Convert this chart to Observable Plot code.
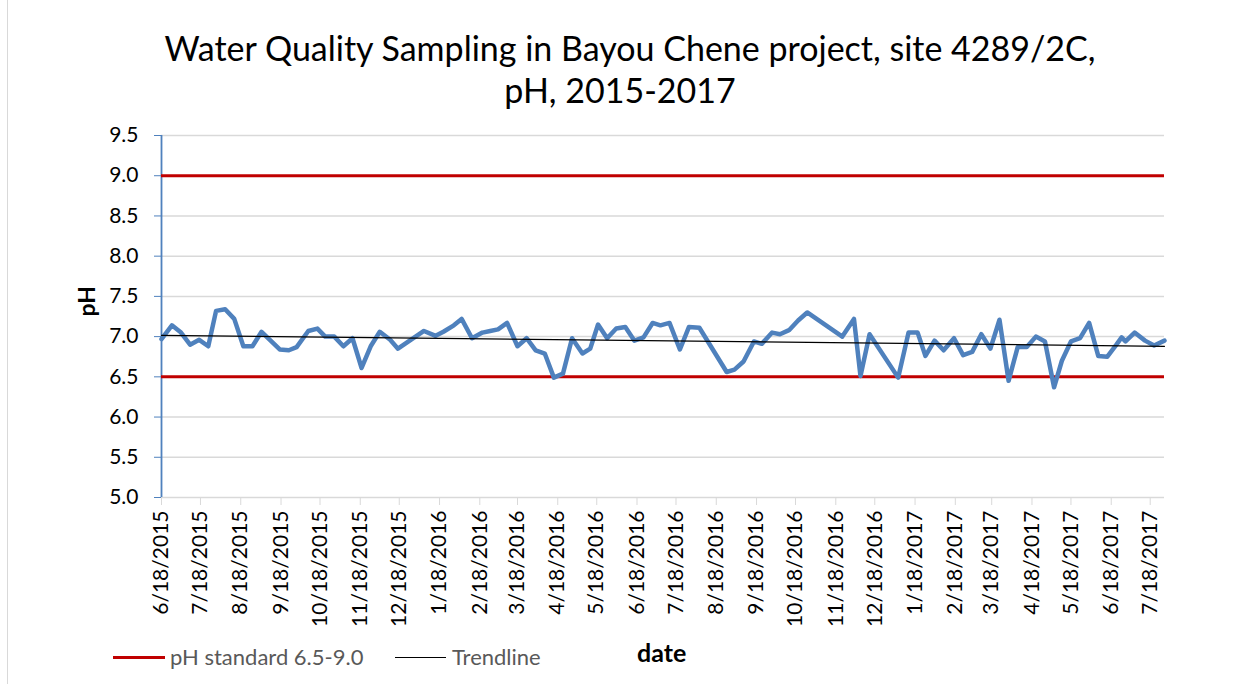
<!DOCTYPE html>
<html>
<head>
<meta charset="utf-8">
<script src="https://cdn.jsdelivr.net/npm/d3@7"></script>
<script src="https://cdn.jsdelivr.net/npm/@observablehq/plot@0.6"></script>
<style>
  html, body { margin: 0; padding: 0; background: #fff; overflow: hidden; }
  #wrap { position: relative; width: 1253px; height: 684px; background: #fff; font-family: Lato, "Open Sans", sans-serif; color: #000; overflow: hidden; }
  #border { position: absolute; left: 7px; top: 0; width: 0; height: 684px; border-left: 1px solid #D9D9D9; z-index: 2; }
  #title { position: relative; height: 115px; }
  .tline { position: absolute; left: 0; text-align: center; font-size: 34px; line-height: 34px; white-space: nowrap; }
  #chart svg { display: block; }
  #legend { position: absolute; left: 0; top: 620px; width: 1253px; height: 64px; }
  .lg { position: absolute; font-size: 22px; line-height: 22px; color: #595959; white-space: nowrap; }
  .sw { position: absolute; height: 0; }
</style>
</head>
<body>
<div id="wrap">
  <div id="title">
    <div class="tline" style="top:31px; width:1260px;">Water Quality Sampling in Bayou Chene project, site 4289/2C,</div>
    <div class="tline" style="top:73px; width:1240px;">pH, 2015-2017</div>
  </div>
  <div id="chart"></div>
  <div id="legend">
    <div class="sw" style="left:113px; top:36px; width:52px; border-top:3px solid #C00000;"></div>
    <div class="lg" style="left:170px; top:26px;">pH standard 6.5-9.0</div>
    <div class="sw" style="left:395px; top:37px; width:51px; border-top:1px solid #000;"></div>
    <div class="lg" style="left:452px; top:26px;">Trendline</div>
    <div class="lg" style="left:637px; top:20px; font-size:25px; line-height:25px; font-weight:bold; color:#000;">date</div>
  </div>
  <div id="border"></div>
</div>
<script>
// Sampling dates and pH values
const sampleDates = [
  "2015-06-18","2015-06-26","2015-07-03","2015-07-10","2015-07-17","2015-07-24","2015-07-30",
  "2015-08-06","2015-08-13","2015-08-20","2015-08-27","2015-09-03","2015-09-10","2015-09-17",
  "2015-09-24","2015-09-30","2015-10-09","2015-10-16","2015-10-22","2015-10-29","2015-11-05",
  "2015-11-12","2015-11-19","2015-11-26","2015-12-03","2015-12-11","2015-12-17",
  "2016-01-06","2016-01-15","2016-01-21","2016-01-29","2016-02-04","2016-02-12","2016-02-20",
  "2016-02-26","2016-03-03","2016-03-10","2016-03-18","2016-03-25","2016-04-01","2016-04-08",
  "2016-04-15","2016-04-22","2016-04-29","2016-05-07","2016-05-13","2016-05-19","2016-05-26",
  "2016-06-02","2016-06-09","2016-06-16","2016-06-23","2016-06-30","2016-07-06","2016-07-13",
  "2016-07-21","2016-07-28","2016-08-05","2016-08-26","2016-09-01","2016-09-08","2016-09-16",
  "2016-09-22","2016-09-30","2016-10-06","2016-10-13","2016-10-20","2016-10-27","2016-11-23",
  "2016-12-02","2016-12-07","2016-12-14",
  "2017-01-05","2017-01-13","2017-01-20","2017-01-26","2017-02-02","2017-02-09","2017-02-17",
  "2017-02-24","2017-03-03","2017-03-10","2017-03-17","2017-03-24","2017-03-31","2017-04-07",
  "2017-04-14","2017-04-21","2017-04-28","2017-05-05","2017-05-11","2017-05-18","2017-05-25",
  "2017-06-01","2017-06-08","2017-06-15","2017-06-22","2017-06-26","2017-06-29","2017-07-06",
  "2017-07-14","2017-07-21","2017-07-29"
];
const phValues = [
  6.97,7.14,7.05,6.90,6.96,6.88,7.32,
  7.34,7.22,6.88,6.88,7.06,6.95,6.84,
  6.83,6.87,7.07,7.10,7.00,7.00,6.88,
  6.98,6.61,6.88,7.06,6.96,6.85,
  7.07,7.01,7.06,7.14,7.22,6.98,7.05,
  7.07,7.09,7.17,6.88,6.98,6.83,6.79,
  6.49,6.54,6.98,6.79,6.85,7.15,6.98,
  7.10,7.12,6.95,6.99,7.17,7.14,7.17,
  6.84,7.12,7.11,6.56,6.59,6.69,6.94,
  6.91,7.05,7.03,7.08,7.20,7.30,7.00,
  7.22,6.51,7.03,
  6.49,7.05,7.05,6.76,6.95,6.83,6.98,
  6.77,6.81,7.03,6.85,7.21,6.45,6.87,
  6.87,7.00,6.94,6.37,6.70,6.94,6.98,
  7.17,6.76,6.75,6.90,6.99,6.94,7.05,
  6.95,6.89,6.95
];
// pH standard limits
const phStandard = [6.5, 9.0];
// Axis ticks
const yTicks = [5.0, 5.5, 6.0, 6.5, 7.0, 7.5, 8.0, 8.5, 9.0, 9.5];
const xTickDates = [
  "2015-06-18","2015-07-18","2015-08-18","2015-09-18","2015-10-18","2015-11-18","2015-12-18",
  "2016-01-18","2016-02-18","2016-03-18","2016-04-18","2016-05-18","2016-06-18","2016-07-18",
  "2016-08-18","2016-09-18","2016-10-18","2016-11-18","2016-12-18",
  "2017-01-18","2017-02-18","2017-03-18","2017-04-18","2017-05-18","2017-06-18","2017-07-18"
];
const xDomain = ["2015-06-18", "2017-07-29"];

const data = sampleDates.map((d, i) => ({date: new Date(d), ph: phValues[i]}));
const xTicks = xTickDates.map(d => new Date(d));
const fmtDate = d => `${d.getUTCMonth() + 1}/${d.getUTCDate()}/${d.getUTCFullYear()}`;
const x0 = new Date(xDomain[0]);

const chart = Plot.plot({
  width: 1253,
  height: 569,
  marginTop: 20,
  marginBottom: 187,
  marginLeft: 161,
  marginRight: 89,
  style: {fontFamily: "Lato, 'Open Sans', sans-serif", fontSize: "21px", color: "#000", background: "#fff"},
  x: {type: "utc", domain: xDomain.map(d => new Date(d))},
  y: {domain: [5, 9.5]},
  marks: [
    Plot.gridY(yTicks, {stroke: "#D9D9D9", strokeOpacity: 1, strokeWidth: 1.5}),
    Plot.axisX(xTicks, {tickRotate: -90, tickFormat: fmtDate, stroke: "#D9D9D9", strokeOpacity: 1, tickSize: 8, tickPadding: 5, label: null, fill: "#000", fontSize: 21}),
    Plot.axisY(yTicks, {tickFormat: d => d.toFixed(1), stroke: "#4F81BD", strokeOpacity: 1, tickSize: 7, tickPadding: 16, label: null, fill: "#000", fontSize: 21}),
    Plot.ruleX([x0], {stroke: "#4F81BD", strokeWidth: 1.8}),
    Plot.ruleY(phStandard, {stroke: "#C00000", strokeWidth: 3}),
    Plot.line(data, {x: "date", y: "ph", stroke: "#4F81BD", strokeWidth: 4.5, strokeLinejoin: "round", strokeLinecap: "round"}),
    Plot.linearRegressionY(data, {x: "date", y: "ph", stroke: "#000", strokeWidth: 1.2, ci: 0}),
    Plot.text(["pH"], {frameAnchor: "left", dx: -74, rotate: -90, fontWeight: "bold", fontSize: 23, fill: "#000"})
  ]
});
document.getElementById("chart").appendChild(chart);
</script>
</body>
</html>
